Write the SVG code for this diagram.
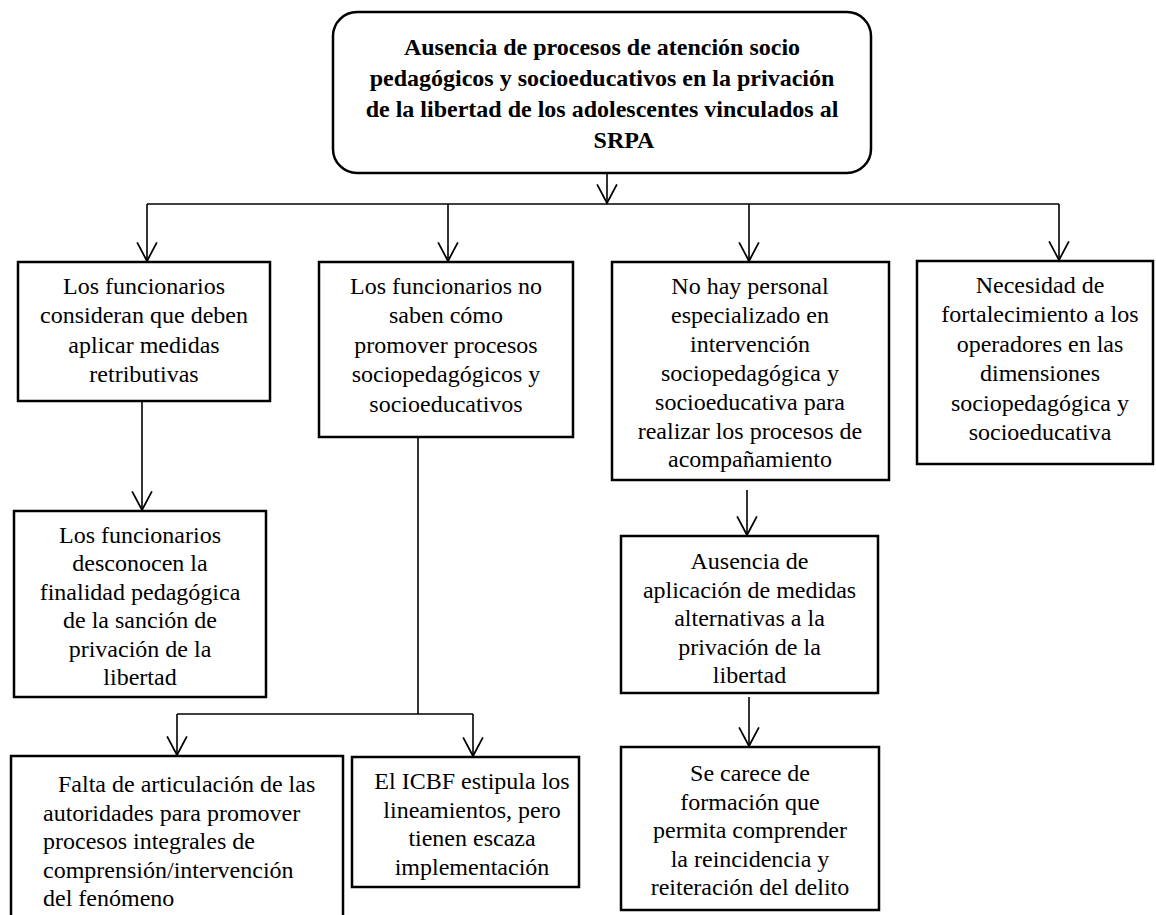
<svg xmlns="http://www.w3.org/2000/svg" width="1156" height="915" viewBox="0 0 1156 915">
<style>
.box{fill:#fff;stroke:#000;stroke-width:2.5}
.t{font-family:"Liberation Serif","Times New Roman",serif;font-size:24px;fill:#000;text-anchor:middle}
.tl{text-anchor:start}
.b{font-weight:bold}
.c{fill:none;stroke:#000;stroke-width:1.6}
</style>
<defs>
<marker id="ah" markerUnits="userSpaceOnUse" markerWidth="22" markerHeight="22" viewBox="0 0 20 20" refX="18" refY="10" orient="auto">
<path d="M1,1 L18,10 L1,19" fill="none" stroke="#000" stroke-width="1.6"/>
</marker>
</defs>
<rect width="1156" height="915" fill="#fff"/>
<g id="connectors">
<path class="c" d="M607,173 V203" marker-end="url(#ah)"/>
<path class="c" d="M147,204 H1059"/>
<path class="c" d="M147,204 V261" marker-end="url(#ah)"/>
<path class="c" d="M448,204 V261" marker-end="url(#ah)"/>
<path class="c" d="M749,204 V261" marker-end="url(#ah)"/>
<path class="c" d="M1059,204 V260" marker-end="url(#ah)"/>
<path class="c" d="M142,389 V510" marker-end="url(#ah)"/>
<path class="c" d="M418,425 V714"/>
<path class="c" d="M177,714 H473"/>
<path class="c" d="M177,714 V755" marker-end="url(#ah)"/>
<path class="c" d="M473,714 V756" marker-end="url(#ah)"/>
<path class="c" d="M747,490 V535" marker-end="url(#ah)"/>
<path class="c" d="M749,697 V746" marker-end="url(#ah)"/>
</g>
<g id="n0">
<rect class="box" x="333" y="12" width="538" height="161" rx="24"/>
<text class="t b" x="602" y="55">Ausencia de procesos de atención socio</text>
<text class="t b" x="602" y="86">pedagógicos y socioeducativos en la privación</text>
<text class="t b" x="602" y="117">de la libertad de los adolescentes vinculados al</text>
<text class="t b" x="624" y="148">SRPA</text>
</g>
<g id="n1">
<rect class="box" x="18" y="262" width="252" height="139"/>
<text class="t" x="144" y="294">Los funcionarios</text>
<text class="t" x="144" y="323.4">consideran que deben</text>
<text class="t" x="144" y="352.8">aplicar medidas</text>
<text class="t" x="144" y="382.2">retributivas</text>
</g>
<g id="n2">
<rect class="box" x="319" y="262" width="254" height="175"/>
<text class="t" x="446" y="294">Los funcionarios no</text>
<text class="t" x="446" y="323.4">saben cómo</text>
<text class="t" x="446" y="352.8">promover procesos</text>
<text class="t" x="446" y="382.2">sociopedagógicos y</text>
<text class="t" x="446" y="411.6">socioeducativos</text>
</g>
<g id="n3">
<rect class="box" x="612" y="262" width="277" height="218"/>
<text class="t" x="750" y="294">No hay personal</text>
<text class="t" x="750" y="322.9">especializado en</text>
<text class="t" x="750" y="351.8">intervención</text>
<text class="t" x="750" y="380.7">sociopedagógica y</text>
<text class="t" x="750" y="409.6">socioeducativa para</text>
<text class="t" x="750" y="438.5">realizar los procesos de</text>
<text class="t" x="750" y="467.4">acompañamiento</text>
</g>
<g id="n4">
<rect class="box" x="917" y="261" width="236" height="203"/>
<text class="t" x="1040" y="293">Necesidad de</text>
<text class="t" x="1040" y="322.4">fortalecimiento a los</text>
<text class="t" x="1040" y="351.8">operadores en las</text>
<text class="t" x="1040" y="381.2">dimensiones</text>
<text class="t" x="1040" y="410.6">sociopedagógica y</text>
<text class="t" x="1040" y="440">socioeducativa</text>
</g>
<g id="n5">
<rect class="box" x="14" y="511" width="252" height="186"/>
<text class="t" x="140" y="543">Los funcionarios</text>
<text class="t" x="140" y="571.4">desconocen la</text>
<text class="t" x="140" y="599.8">finalidad pedagógica</text>
<text class="t" x="140" y="628.2">de la sanción de</text>
<text class="t" x="140" y="656.6">privación de la</text>
<text class="t" x="140" y="685">libertad</text>
</g>
<g id="n6">
<rect class="box" x="621" y="536" width="257" height="157"/>
<text class="t" x="749.5" y="569">Ausencia de</text>
<text class="t" x="749.5" y="597.6">aplicación de medidas</text>
<text class="t" x="749.5" y="626.2">alternativas a la</text>
<text class="t" x="749.5" y="654.8">privación de la</text>
<text class="t" x="749.5" y="683.4">libertad</text>
</g>
<g id="n7">
<rect class="box" x="11" y="756" width="332" height="170"/>
<text class="t tl" x="58" y="792">Falta de articulación de las</text>
<text class="t tl" x="43" y="820.6">autoridades para promover</text>
<text class="t tl" x="43" y="849.2">procesos integrales de</text>
<text class="t tl" x="43" y="877.8">comprensión/intervención</text>
<text class="t tl" x="43" y="906.4">del fenómeno</text>
</g>
<g id="n8">
<rect class="box" x="352" y="757" width="227" height="130"/>
<text class="t" x="472" y="789">El ICBF estipula los</text>
<text class="t" x="472" y="817.6">lineamientos, pero</text>
<text class="t" x="472" y="846.2">tienen escaza</text>
<text class="t" x="472" y="874.8">implementación</text>
</g>
<g id="n9">
<rect class="box" x="621" y="747" width="258" height="163"/>
<text class="t" x="750" y="781">Se carece de</text>
<text class="t" x="750" y="809.6">formación que</text>
<text class="t" x="750" y="838.2">permita comprender</text>
<text class="t" x="750" y="866.8">la reincidencia y</text>
<text class="t" x="750" y="895.4">reiteración del delito</text>
</g>
</svg>
